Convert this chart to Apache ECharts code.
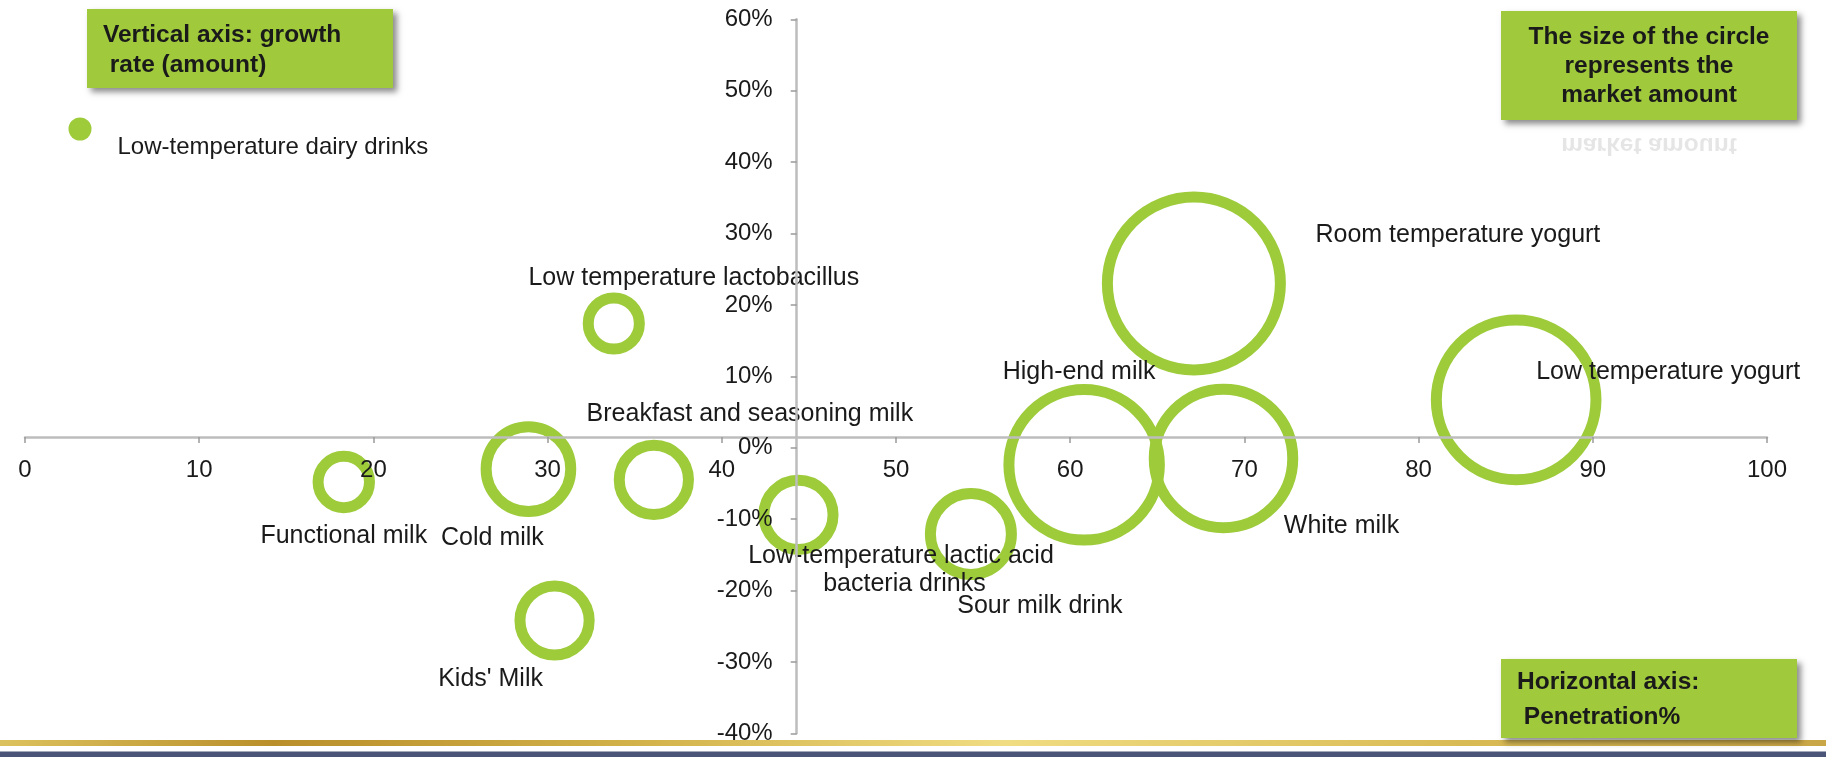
<!DOCTYPE html>
<html>
<head>
<meta charset="utf-8">
<script src="https://cdn.jsdelivr.net/npm/echarts@6/dist/echarts.min.js"></script>
<style>
html,body{margin:0;padding:0;background:#fff;}
#chart{width:1826px;height:757px;}
</style>
</head>
<body>
<div id="chart"></div>
<script>
// ---- data ----
var seriesName = 'Low-temperature dairy drinks';
var categories = [
  'Functional milk',
  'Cold milk',
  "Kids' Milk",
  'Low temperature lactobacillus',
  'Breakfast and seasoning milk',
  'Low-temperature lactic acid bacteria drinks',
  'Sour milk drink',
  'High-end milk',
  'Room temperature yogurt',
  'White milk',
  'Low temperature yogurt'
];
var penetration = [18.3, 28.9, 30.4, 33.8, 36.1, 44.4, 54.3, 60.8, 67.1, 68.8, 85.6];
var growthRate  = [-4.8, -3.0, -24.2, 17.4, -4.5, -9.4, -12.1, -2.4, 23.0, -1.5, 6.7];
var marketAmount = [11.5, 27, 19, 11.4, 19, 19, 25, 77, 100, 66, 86];
var xTicks = [0, 100, 10];
var yTicks = [-40, 60, 10];

// ---- label placement (style only) ----
var labelOffsets = {
  'Functional milk': [0, 54],
  'Cold milk': [-36, 69],
  "Kids' Milk": [-64, 59],
  'Low temperature lactobacillus': [80, -45],
  'Breakfast and seasoning milk': [96, -66],
  'Low-temperature lactic acid bacteria drinks': [106, 55],
  'Sour milk drink': [69, 72],
  'High-end milk': [-5, -93],
  'Room temperature yogurt': [264, -48],
  'White milk': [118, 68],
  'Low temperature yogurt': [152, -28]
};

var GREEN = '#9dcb3a';
var BOX = '#a0ca3c';
var FONT = '"Liberation Sans", Arial, sans-serif';
var RING = 11;

var data = categories.map(function (name, i) {
  var item = {
    name: name,
    value: [penetration[i], growthRate[i], marketAmount[i]]
  };
  if (name === 'Low-temperature lactic acid bacteria drinks') {
    item.label = { width: 330, overflow: 'break', lineHeight: 28 };
  }
  return item;
});

function boxText(lines, x, ys, align) {
  return lines.map(function (t, i) {
    return {
      type: 'text',
      z: 20,
      style: {
        text: t, x: x, y: ys[i],
        font: 'bold 24.5px ' + FONT,
        fill: '#1a1a1a',
        align: align, textAlign: align,
        verticalAlign: 'middle', textVerticalAlign: 'middle'
      }
    };
  });
}

var graphics = [
  {
    type: 'rect', z: -10,
    shape: { x: 0, y: 740, width: 1826, height: 6 },
    style: {
      fill: {
        type: 'linear', x: 0, y: 0, x2: 1, y2: 0,
        colorStops: [
          { offset: 0, color: '#dcc25e' },
          { offset: 0.15, color: '#b98f2b' },
          { offset: 0.35, color: '#d2b24a' },
          { offset: 0.55, color: '#f0dc82' },
          { offset: 0.8, color: '#d9bb55' },
          { offset: 1, color: '#c9a646' }
        ]
      }
    }
  },
  {
    type: 'rect', z: -10,
    shape: { x: 0, y: 751.5, width: 1826, height: 6 },
    style: { fill: '#4a5577' }
  },
  {
    type: 'rect', z: 19,
    shape: { x: 87, y: 9, width: 306, height: 79 },
    style: { fill: BOX, shadowBlur: 6, shadowOffsetX: 4, shadowOffsetY: 4, shadowColor: 'rgba(0,0,0,0.45)' }
  },
  {
    type: 'rect', z: 19,
    shape: { x: 1501, y: 11, width: 296, height: 109 },
    style: { fill: BOX, shadowBlur: 6, shadowOffsetX: 4, shadowOffsetY: 4, shadowColor: 'rgba(0,0,0,0.45)' }
  },
  {
    type: 'text', z: 18,
    x: 1649, y: 145, scaleY: -1,
    style: {
      text: 'market amount', x: 0, y: 0,
      font: 'bold 24.5px ' + FONT,
      fill: 'rgba(0,0,0,0.10)',
      align: 'center', textAlign: 'center',
      verticalAlign: 'middle', textVerticalAlign: 'middle'
    }
  },
  {
    type: 'rect', z: 19,
    shape: { x: 1501, y: 659, width: 296, height: 79 },
    style: { fill: BOX, shadowBlur: 6, shadowOffsetX: 4, shadowOffsetY: 4, shadowColor: 'rgba(0,0,0,0.45)' }
  }
]
.concat(boxText(['Vertical axis: growth', ' rate (amount)'], 103, [35, 65], 'left'))
.concat(boxText(['The size of the circle', 'represents the', 'market amount'], 1649, [37, 66, 95], 'center'))
.concat(boxText(['Horizontal axis:', ' Penetration%'], 1517, [682, 717], 'left'));

var GRID = { left: 25, right: 59, top: 19.3, bottom: 23.7 };
var gridH = 757 - GRID.top - GRID.bottom;
var gridW = 1826 - GRID.left - GRID.right;
// axis crossing points (Excel-style): x axis crosses at 1.5%, y axis at 44.3
var xCrossY = 1.5, yCrossX = 44.3;
var xAxisOffset = -gridH * (xCrossY - yTicks[0]) / (yTicks[1] - yTicks[0]);
var yAxisOffset = -gridW * (yCrossX - xTicks[0]) / (xTicks[1] - xTicks[0]);

var chart = echarts.init(document.getElementById('chart'));
chart.setOption({
  animation: false,
  backgroundColor: '#ffffff',
  grid: {
    left: GRID.left, right: GRID.right, top: GRID.top, bottom: GRID.bottom,
    containLabel: false, outerBoundsMode: 'none'
  },
  legend: {
    data: [seriesName],
    left: 68.5,
    top: 92,
    padding: 0,
    icon: 'circle',
    itemWidth: 23,
    itemHeight: 23,
    itemStyle: { color: GREEN, borderWidth: 0 },
    formatter: function (n) { return '\n' + n; },
    textStyle: { fontFamily: FONT, fontSize: 24, color: '#1a1a1a', lineHeight: 37, padding: [0, 0, 0, 21] },
    selectedMode: false
  },
  xAxis: {
    type: 'value', min: xTicks[0], max: xTicks[1], interval: xTicks[2],
    position: 'bottom',
    offset: xAxisOffset,
    z: 10,
    axisLine: { show: true, onZero: false, lineStyle: { color: '#bdbdbd', width: 2.5 } },
    axisTick: { show: true, length: 6, lineStyle: { color: '#9a9a9a', width: 1.5 } },
    axisLabel: { fontFamily: FONT, fontSize: 24, color: '#1a1a1a', margin: 21, hideOverlap: false },
    splitLine: { show: false }
  },
  yAxis: {
    type: 'value', min: yTicks[0], max: yTicks[1], interval: yTicks[2],
    position: 'left',
    offset: yAxisOffset,
    z: 10,
    axisLine: { show: true, onZero: false, lineStyle: { color: '#bdbdbd', width: 2.5 } },
    axisTick: { show: true, length: 6, lineStyle: { color: '#9a9a9a', width: 1.5 } },
    axisLabel: { fontFamily: FONT, fontSize: 24, color: '#1a1a1a', margin: 24, formatter: '{value}%', hideOverlap: false },
    splitLine: { show: false }
  },
  series: [{
    name: seriesName,
    type: 'scatter',
    data: data,
    symbol: 'circle',
    symbolSize: function (v) { return 184 * Math.sqrt(v[2] / 100) - RING; },
    itemStyle: { color: 'rgba(0,0,0,0)', borderColor: GREEN, borderWidth: RING, opacity: 1 },
    emphasis: { disabled: true },
    label: {
      show: true,
      position: 'inside',
      formatter: '{b}',
      fontFamily: FONT,
      fontSize: 25,
      color: '#1a1a1a',
      align: 'center',
      verticalAlign: 'middle'
    },
    labelLayout: function (p) {
      var o = labelOffsets[categories[p.dataIndex]];
      return { dx: o[0], dy: o[1], hideOverlap: false };
    },
    z: 2
  }],
  graphic: { elements: graphics }
});
</script>
</body>
</html>
